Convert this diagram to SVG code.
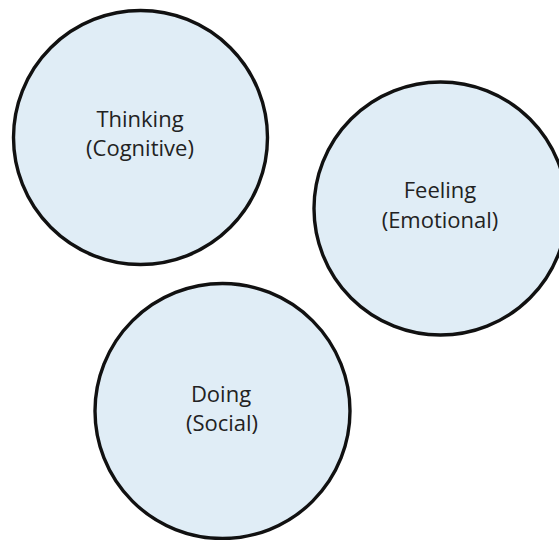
<svg xmlns="http://www.w3.org/2000/svg" width="559" height="540" viewBox="0 0 559 540">
<style>
.node circle{fill:#e0edf6;stroke:#111;stroke-width:3.4}
.node text{font-family:"Open Sans","Noto Sans",sans-serif;font-size:22px;fill:#222;text-anchor:middle}
</style>
<rect width="559" height="540" fill="#fff"/>
<g id="connectors"></g>
<g id="thinking" class="node">
<circle cx="140.5" cy="137.5" r="127"/>
<text x="140" y="127">Thinking</text>
<text x="140" y="156">(Cognitive)</text>
</g>
<g id="feeling" class="node">
<circle cx="440.5" cy="208.5" r="126.5"/>
<text x="440" y="198">Feeling</text>
<text x="440" y="228">(Emotional)</text>
</g>
<g id="doing" class="node">
<circle cx="222.5" cy="411" r="127.5"/>
<text x="221" y="402">Doing</text>
<text x="222" y="431">(Social)</text>
</g>
</svg>
